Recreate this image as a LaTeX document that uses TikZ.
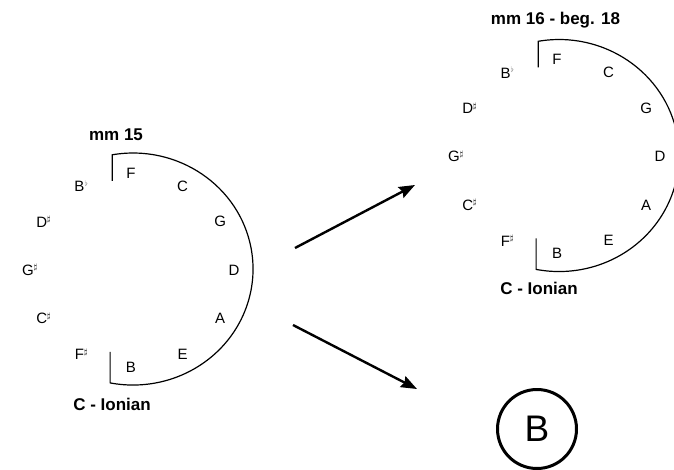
\documentclass[tikz,border=0pt]{standalone}
\usepackage{fontspec}
\setmainfont{Liberation Sans}
\usetikzlibrary{arrows.meta}
% small accidentals set after a note letter without widening its node
\newcommand\sharpmark{\rlap{\raisebox{5.5pt}{\fontsize{8}{8}\selectfont$\sharp$}}}
\newcommand\flatmark{\rlap{\raisebox{5.5pt}{\color{gray}\fontsize{8}{8}\selectfont$\flat$}}}
\tikzset{
  note/.style={font=\fontsize{15}{15}\selectfont, inner sep=0pt},
  heading/.style={font=\bfseries\fontsize{17}{17}\selectfont, inner sep=0pt},
  scalearc/.style={line width=1.2pt},
  bigarrow/.style={line width=2.4pt, -{Stealth[length=16pt,width=12pt,inset=2pt]}},
  % circle of fifths with the bracketed arc around the active notes
  fifths/.pic={
    \draw[scalearc] (-18.8,-89) -- (-18.8,-115.2)
      arc[start angle=-100, end angle=101, x radius=120, y radius=116]
      -- ++(0,-31);
    \node[note] (-F)  at (-90:103 and 97)  {F};
    \node[note] (-C)  at (-60:103 and 97)  {C};
    \node[note] (-G)  at (-30:103 and 97)  {G};
    \node[note] (-D)  at (0:103 and 97)    {D};
    \node[note] (-A)  at (30:103 and 97)   {A};
    \node[note] (-E)  at (60:103 and 97)   {E};
    \node[note] (-B)  at (90:103 and 97)   {B};
    \node[note] (-Fs) at (120:103 and 97)  {F\sharpmark};
    \node[note] (-Cs) at (150:103 and 97)  {C\sharpmark};
    \node[note] (-Gs) at (180:103 and 97)  {G\sharpmark};
    \node[note] (-Ds) at (210:103 and 97)  {D\sharpmark};
    \node[note] (-Bb) at (240:103 and 97)  {B\flatmark};
  }
}
\begin{document}
\begin{tikzpicture}[x=1pt, y=-1pt]
  \useasboundingbox (0,0) rectangle (674,470);
  \clip (0,0) rectangle (674,470);

  % measure 15
  \pic (left) at (131,270) {fifths};
  \node[heading] (lefttitle) at (116,135) {mm 15};
  \node[heading] (leftmode)  at (112,404) {C - Ionian};

  % measures 16 to the beginning of 18
  \pic (right) at (557,156.5) {fifths};
  \node[heading] (righttitle) at (555.5,20) {mm 16 - beg. 18};
  \node[heading] (rightmode)  at (539,288) {C - Ionian};

  % alternative continuation
  \node[draw, circle, line width=3pt, minimum size=79pt, inner sep=0pt,
        font=\fontsize{37}{37}\selectfont] (optB) at (537,429) {B};

  % transitions
  \coordinate (upstart) at (295,248);
  \coordinate (upend)   at (415,185);
  \coordinate (downstart) at (293,325);
  \coordinate (downend)   at (417,389);
  \draw[bigarrow] (upstart) -- (upend);
  \draw[bigarrow] (downstart) -- (downend);
\end{tikzpicture}
\end{document}
